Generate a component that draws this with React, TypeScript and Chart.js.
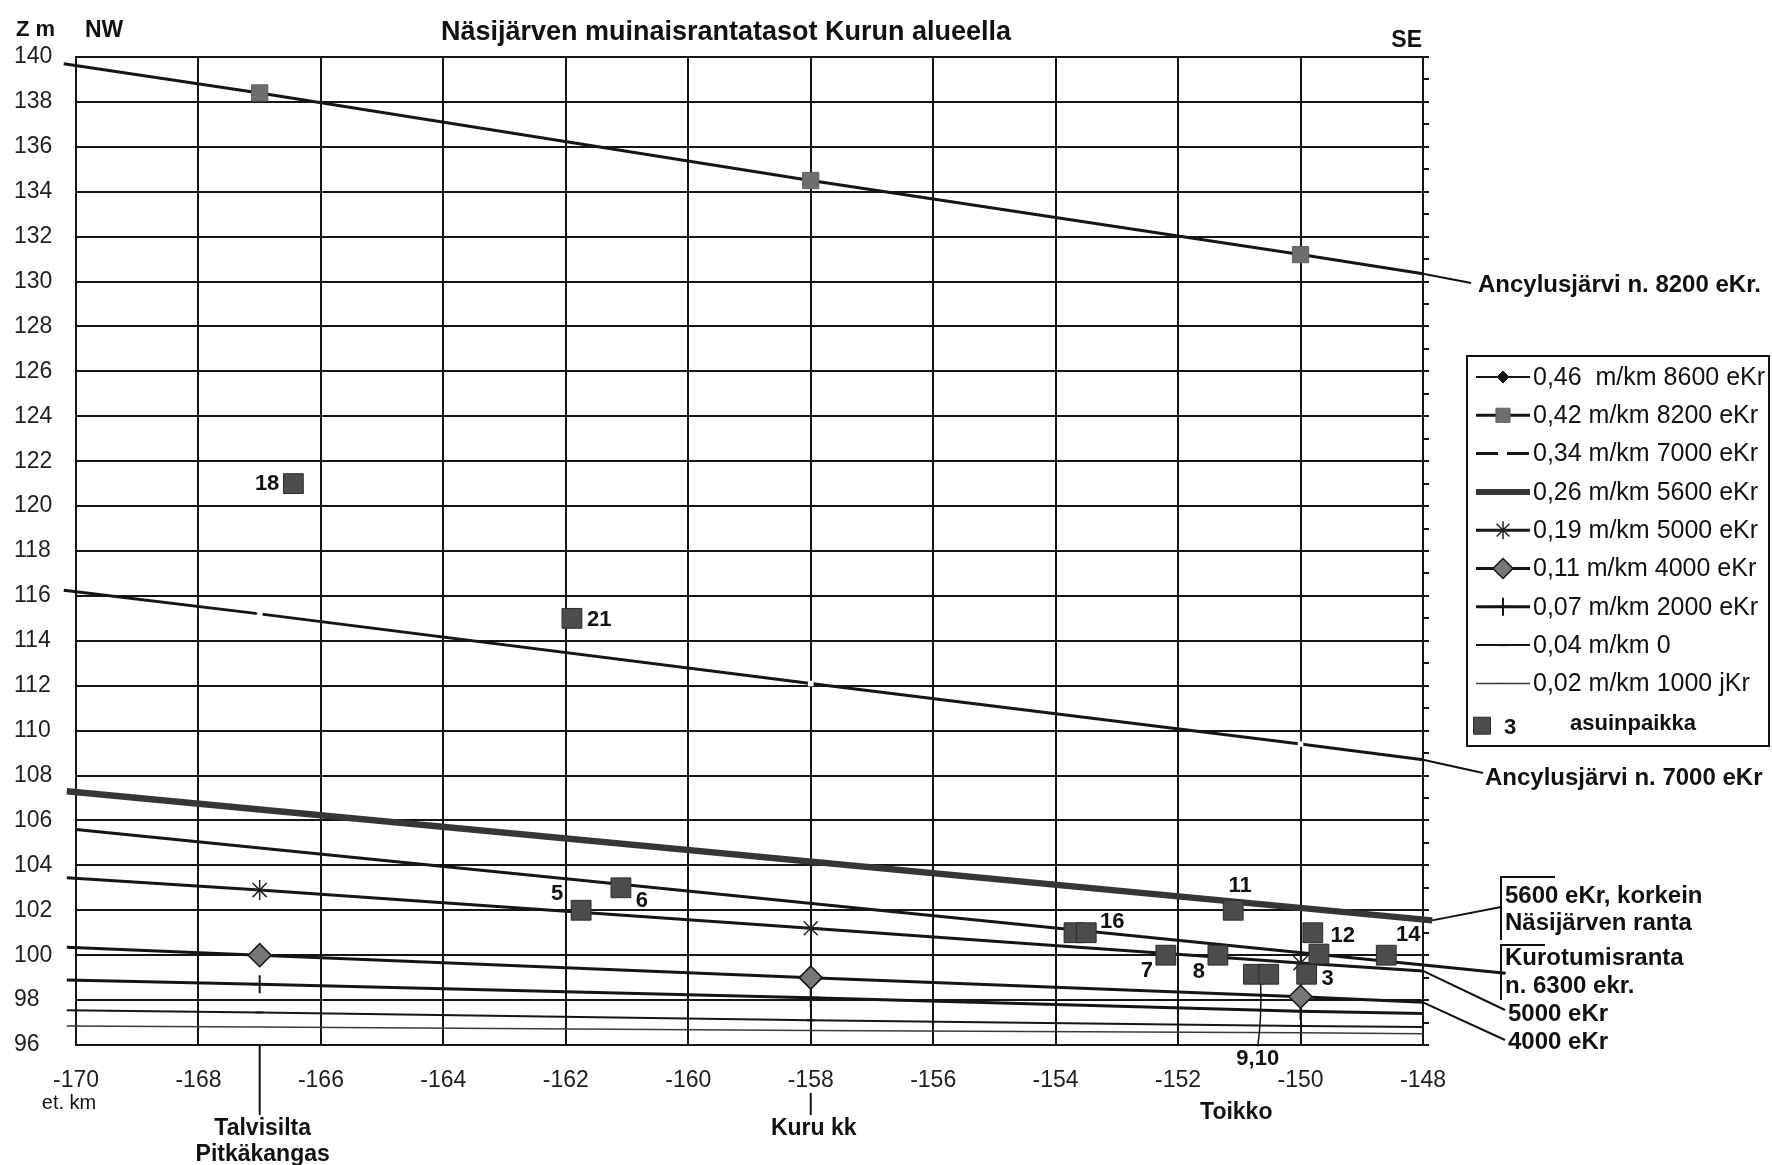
import React, { useEffect, useRef } from 'react';
import { Chart, registerables } from 'chart.js';
import { drawPoint } from 'chart.js/helpers';

Chart.register(...registerables);

// ---------------- data ----------------
const TITLE = 'Näsijärven muinaisrantatasot Kurun alueella';
const X_MIN = -170;
const X_MAX = -148;
const X_STEP = 2;
const Y_MIN = 96;
const Y_MAX = 140;
const Y_STEP = 2;

const seriesLabels = [
  '0,46  m/km 8600 eKr',
  '0,42 m/km 8200 eKr',
  '0,34 m/km 7000 eKr',
  '0,26 m/km 5600 eKr',
  '0,19 m/km 5000 eKr',
  '0,11 m/km 4000 eKr',
  '0,07 m/km 2000 eKr',
  '0,04 m/km 0',
  '0,02 m/km 1000 jKr',
];
const siteLegendNumber = '3';
const siteLegendText = 'asuinpaikka';

const km8600: number[] = [];
const z8600: number[] = [];
const km8200 = [-170.2, -167, -158, -150, -148];
const z8200 = [139.7, 138.4, 134.5, 131.2, 130.35];
const km7000 = [-170.2, -167, -158, -150, -148];
const z7000 = [116.25, 115.2, 112.1, 109.4, 108.7];
const km5600 = [-170.15, -147.85];
const z5600 = [107.3, 101.55];
const km6300 = [-170, -146.65];
const z6300 = [105.6, 99.2];
const km5000 = [-170.15, -167, -158, -150, -148];
const z5000 = [103.45, 102.9, 101.2, 99.65, 99.3];
const km4000 = [-170.15, -167, -158, -150, -148];
const z4000 = [100.35, 100.0, 99.0, 98.15, 97.9];
const km2000 = [-170.15, -167, -158, -150, -148];
const z2000 = [98.9, 98.7, 98.1, 97.5, 97.4];
const km0 = [-170.15, -167, -158, -150, -148];
const z0 = [97.55, 97.45, 97.1, 96.85, 96.8];
const km1000 = [-170.15, -167, -158, -150, -148];
const z1000 = [96.85, 96.8, 96.65, 96.55, 96.5];

const siteKm = [-166.45, -161.9, -161.75, -161.1, -153.7, -153.5, -151.1, -152.2, -151.35, -150.77, -150.52, -149.9, -149.8, -149.7, -148.6];
const siteZ = [121, 115, 102, 103, 101, 101, 102, 100, 100, 99.15, 99.15, 99.15, 101, 100.05, 100];
const siteLabels = ['18', '21', '5', '6', '', '16', '11', '7', '8', '', '9,10', '3', '12', '', '14'];

const placeKm = [-167, -158, -151.05];
const placeNames = [['Talvisilta', 'Pitkäkangas'], ['Kuru kk'], ['Toikko']];

const rightLabels = [
  ['Ancylusjärvi n. 8200 eKr.'],
  ['Ancylusjärvi n. 7000 eKr'],
  ['5600 eKr, korkein', 'Näsijärven ranta'],
  ['Kurotumisranta', 'n. 6300 ekr.'],
  ['5000 eKr'],
  ['4000 eKr'],
];

// ---------------- helpers / styles ----------------
const SANS = "'Liberation Sans', Arial, Helvetica, sans-serif";
const INK = '#151515';

const pts = (xs: number[], ys: number[]) => xs.map((x, i) => ({ x, y: ys[i] }));
const inner = (xs: number[], r: number) => xs.map((_, i) => (i === 0 || i === xs.length - 1 ? 0 : r));

const datasets: any[] = [
  {
    label: seriesLabels[0], data: pts(km8600, z8600), showLine: true, borderColor: INK, borderWidth: 2,
    pointStyle: 'rectRot', pointRadius: 5, pointBackgroundColor: INK, pointBorderColor: INK, order: 3, legendRadius: 6,
  },
  {
    label: seriesLabels[1], data: pts(km8200, z8200), showLine: true, borderColor: INK, borderWidth: 3,
    pointStyle: 'rect', pointRadius: inner(km8200, 11.5), pointBackgroundColor: '#6e6e6e', pointBorderColor: '#626262',
    pointBorderWidth: 1, order: 3, legendRadius: 10,
  },
  {
    label: seriesLabels[2], data: pts(km7000, z7000), showLine: true, borderColor: INK, borderWidth: 3,
    pointStyle: 'rect', pointRadius: inner(km7000, 4), pointBackgroundColor: '#ffffff', pointBorderWidth: 0,
    order: 3, legendRadius: 0, legendDash: [22, 9],
  },
  {
    label: seriesLabels[3], data: pts(km5600, z5600), showLine: true, borderColor: '#363636', borderWidth: 6.5,
    pointRadius: 0, order: 4, legendRadius: 0,
  },
  {
    label: 'Kurotumisranta n. 6300 ekr.', data: pts(km6300, z6300), showLine: true, borderColor: INK, borderWidth: 3,
    pointRadius: 0, order: 3, legendSkip: true,
  },
  {
    label: seriesLabels[4], data: pts(km5000, z5000), showLine: true, borderColor: INK, borderWidth: 3,
    pointStyle: 'star', pointRadius: inner(km5000, 10), pointBorderColor: '#222', pointBackgroundColor: '#222',
    pointBorderWidth: 1.5, order: 3, legendRadius: 9,
  },
  {
    label: seriesLabels[5], data: pts(km4000, z4000), showLine: true, borderColor: INK, borderWidth: 3,
    pointStyle: 'rectRot', pointRadius: inner(km4000, 11.5), pointBackgroundColor: '#777777', pointBorderColor: INK,
    pointBorderWidth: 1.5, order: 3, legendRadius: 10,
  },
  {
    label: seriesLabels[6], data: pts(km2000, z2000), showLine: true, borderColor: INK, borderWidth: 3,
    pointStyle: 'cross', pointRadius: inner(km2000, 9), pointBorderColor: INK, pointBackgroundColor: INK,
    pointBorderWidth: 2, order: 3, legendRadius: 9,
  },
  {
    label: seriesLabels[7], data: pts(km0, z0), showLine: true, borderColor: INK, borderWidth: 2,
    pointStyle: 'line', pointRadius: inner(km0, 4), pointBorderColor: INK, pointBackgroundColor: INK,
    pointBorderWidth: 2, order: 3, legendRadius: 4,
  },
  {
    label: seriesLabels[8], data: pts(km1000, z1000), showLine: true, borderColor: '#3a3a3a', borderWidth: 1.5,
    pointRadius: 0, order: 3, legendRadius: 3, legendPoint: 'line',
  },
  {
    label: `${siteLegendNumber} ${siteLegendText}`, data: pts(siteKm, siteZ), showLine: false,
    pointStyle: 'rect', pointRadius: 14, pointBackgroundColor: '#4c4c4c', pointBorderColor: '#2b2b2b',
    pointBorderWidth: 1, order: 0, legendSkip: true,
  },
];

// label placement for site numbers: [dx, dy, align] in px from the square centre
const SITE_LABEL_POS: Record<string, [number, number, CanvasTextAlign]> = {
  '18': [-14, 0, 'right'],
  '21': [15, 2, 'left'],
  '5': [-24, -16, 'center'],
  '6': [21, 13, 'center'],
  '16': [26, -11, 'center'],
  '11': [7, -24, 'center'],
  '7': [-19, 16, 'center'],
  '8': [-19, 17, 'center'],
  '9,10': [-11, 85, 'center'],
  '3': [21, 5, 'center'],
  '12': [30, 3, 'center'],
  '14': [22, -20, 'center'],
};

const annotPlugin = {
  id: 'annot',
  afterDraw(chart: any) {
    const { ctx, chartArea: a, scales } = chart;
    const X = (v: number) => scales.x.getPixelForValue(v);
    const Y = (v: number) => scales.y.getPixelForValue(v);
    ctx.save();
    ctx.fillStyle = '#111';
    ctx.strokeStyle = '#111';
    ctx.textBaseline = 'middle';

    // header texts
    ctx.font = `bold 27px ${SANS}`;
    ctx.textAlign = 'center';
    ctx.fillText(TITLE, 726, 33);
    ctx.textAlign = 'left';
    ctx.font = `bold 22px ${SANS}`;
    ctx.fillText('Z m', 16, 30);
    ctx.font = `bold 23px ${SANS}`;
    ctx.fillText('NW', 85, 31);
    ctx.textAlign = 'right';
    ctx.fillText('SE', a.right - 1, 41);
    ctx.textAlign = 'center';
    ctx.font = `20px ${SANS}`;
    ctx.fillText('et. km', 69, 1103);

    // site numbers
    ctx.font = `bold 22px ${SANS}`;
    siteLabels.forEach((lab, i) => {
      if (!lab) return;
      const p = SITE_LABEL_POS[lab];
      if (!p) return;
      ctx.textAlign = p[2];
      ctx.fillText(lab, X(siteKm[i]) + p[0], Y(siteZ[i]) + p[1]);
    });
    // 9,10 leader
    {
      const i = siteLabels.indexOf('9,10');
      const cx = X(siteKm[i]);
      const cy = Y(siteZ[i]);
      ctx.lineWidth = 1.5;
      ctx.beginPath();
      ctx.moveTo(cx - 8, cy + 10);
      ctx.quadraticCurveTo(cx - 7, cy + 45, cx - 11, cy + 72);
      ctx.stroke();
    }

    // places below axis
    ctx.font = `bold 23px ${SANS}`;
    ctx.textAlign = 'center';
    ctx.lineWidth = 2;
    placeNames.forEach((lines, i) => {
      const px = X(placeKm[i]);
      if (i === 0 || i === 1) {
        ctx.beginPath();
        ctx.moveTo(px, i === 0 ? a.bottom : a.bottom + 48);
        ctx.lineTo(px, a.bottom + 70);
        ctx.stroke();
        lines.forEach((t, j) => ctx.fillText(t, px + 3, a.bottom + 84 + j * 26));
      } else {
        lines.forEach((t, j) => ctx.fillText(t, px, a.bottom + 68 + j * 26));
      }
    });

    // leader lines from line ends to right labels
    ctx.lineWidth = 2;
    const leaders: [number, number, number, number][] = [
      [-148, 130.35, a.right + 48, 283],
      [-148, 108.7, a.right + 60, 773],
      [-147.85, 101.55, a.right + 78, 907],
      [-148, 99.3, a.right + 82, 1010],
      [-148, 97.9, a.right + 82, 1040],
    ];
    leaders.forEach(([k, z, tx, ty]) => {
      ctx.beginPath();
      ctx.moveTo(X(k), Y(z));
      ctx.lineTo(tx, ty);
      ctx.stroke();
    });

    // right labels
    ctx.font = `bold 24px ${SANS}`;
    ctx.textAlign = 'left';
    const R = a.right;
    ctx.fillText(rightLabels[0][0], R + 55, 285);
    ctx.fillText(rightLabels[1][0], R + 62, 778);
    ctx.fillText(rightLabels[2][0], R + 82, 896);
    ctx.fillText(rightLabels[2][1], R + 82, 923);
    ctx.fillText(rightLabels[3][0], R + 82, 958);
    ctx.fillText(rightLabels[3][1], R + 82, 986);
    ctx.fillText(rightLabels[4][0], R + 85, 1014);
    ctx.fillText(rightLabels[5][0], R + 85, 1042);
    ctx.lineWidth = 2;
    ctx.beginPath();
    ctx.moveTo(R + 132, 877); ctx.lineTo(R + 78, 877); ctx.lineTo(R + 78, 940);
    ctx.moveTo(R + 122, 945); ctx.lineTo(R + 78, 945); ctx.lineTo(R + 78, 1000);
    ctx.stroke();

    // legend
    const L = { left: 1467, top: 356, right: 1769, bottom: 746, s0: 1476, s1: 1530, tx: 1533, r0: 377, dy: 38.3 };
    ctx.fillStyle = '#fff';
    ctx.fillRect(L.left, L.top, L.right - L.left, L.bottom - L.top);
    ctx.lineWidth = 2;
    ctx.strokeStyle = '#111';
    ctx.strokeRect(L.left, L.top, L.right - L.left, L.bottom - L.top);
    ctx.font = `25px ${SANS}`;
    let row = 0;
    chart.data.datasets.forEach((ds: any) => {
      if (ds.legendSkip) return;
      const y = L.r0 + row * L.dy;
      ctx.save();
      ctx.strokeStyle = ds.borderColor;
      ctx.lineWidth = Math.min(ds.borderWidth, 6);
      if (ds.legendDash) ctx.setLineDash(ds.legendDash);
      ctx.beginPath();
      ctx.moveTo(L.s0, y);
      ctx.lineTo(L.s1, y);
      ctx.stroke();
      ctx.setLineDash([]);
      if (ds.legendRadius) {
        ctx.fillStyle = ds.pointBackgroundColor || ds.borderColor;
        ctx.strokeStyle = ds.pointBorderColor || ds.borderColor;
        const bw = ds.pointBorderWidth ?? 1;
        ctx.lineWidth = bw || 1;
        drawPoint(ctx, { pointStyle: ds.legendPoint || ds.pointStyle, rotation: 0, radius: ds.legendRadius, borderWidth: bw || 1 } as any, (L.s0 + L.s1) / 2, y);
      }
      ctx.restore();
      ctx.fillStyle = '#111';
      ctx.textAlign = 'left';
      ctx.fillText(ds.label, L.tx, y + 1);
      row++;
    });
    {
      const ds = chart.data.datasets[chart.data.datasets.length - 1];
      const y = L.r0 + row * L.dy + 4;
      ctx.fillStyle = ds.pointBackgroundColor;
      ctx.strokeStyle = ds.pointBorderColor;
      ctx.lineWidth = 1;
      drawPoint(ctx, { pointStyle: 'rect', rotation: 0, radius: 12, borderWidth: 1 } as any, 1482, y);
      ctx.fillStyle = '#111';
      ctx.font = `bold 22px ${SANS}`;
      ctx.textAlign = 'left';
      ctx.fillText(siteLegendNumber, 1504, y + 2);
      ctx.fillText(siteLegendText, 1570, y - 2);
    }
    ctx.restore();
  },
};

export default function App() {
  const ref = useRef<HTMLCanvasElement>(null);
  useEffect(() => {
    document.body.style.margin = '0';
    const canvas = ref.current!;
    const chart = new Chart(canvas, {
      type: 'scatter',
      data: { datasets: datasets.map((d) => ({ ...d, clip: false, tension: 0 })) },
      options: {
        animation: false,
        responsive: false,
        devicePixelRatio: 1,
        events: [],
        layout: { padding: { left: 14, right: 341, top: 57, bottom: 0 } },
        plugins: { legend: { display: false }, tooltip: { enabled: false }, title: { display: false } },
        scales: {
          x: {
            type: 'linear', min: X_MIN, max: X_MAX,
            ticks: { stepSize: X_STEP, autoSkip: false, maxRotation: 0, padding: 22, color: '#1e1e1e', font: { family: SANS, size: 23 } },
            grid: { color: INK, lineWidth: 2, drawTicks: false },
            border: { display: true, color: INK, width: 2 },
            afterFit: (s: any) => { s.height = 120; },
          },
          y: {
            type: 'linear', position: 'left', min: Y_MIN, max: Y_MAX,
            ticks: { stepSize: Y_STEP, crossAlign: 'far', padding: 8, color: '#1e1e1e', font: { family: SANS, size: 23 } },
            grid: { color: INK, lineWidth: 2, drawTicks: false },
            border: { display: true, color: INK, width: 2 },
            afterFit: (s: any) => { s.width = 62; },
          },
          y2: {
            type: 'linear', position: 'right', min: Y_MIN, max: Y_MAX,
            ticks: { stepSize: 1, display: false },
            grid: { drawOnChartArea: false, drawTicks: true, tickLength: 6, color: INK, lineWidth: 2 },
            border: { display: false },
            afterFit: (s: any) => { s.width = 8; },
          },
        },
      } as any,
      plugins: [annotPlugin],
    });
    return () => chart.destroy();
  }, []);
  return (
    <div style={{ position: 'fixed', left: 0, top: 0, width: 1772, height: 1165, background: '#fff' }}>
      <canvas ref={ref} width={1772} height={1165} style={{ width: 1772, height: 1165, display: 'block' }} />
    </div>
  );
}
